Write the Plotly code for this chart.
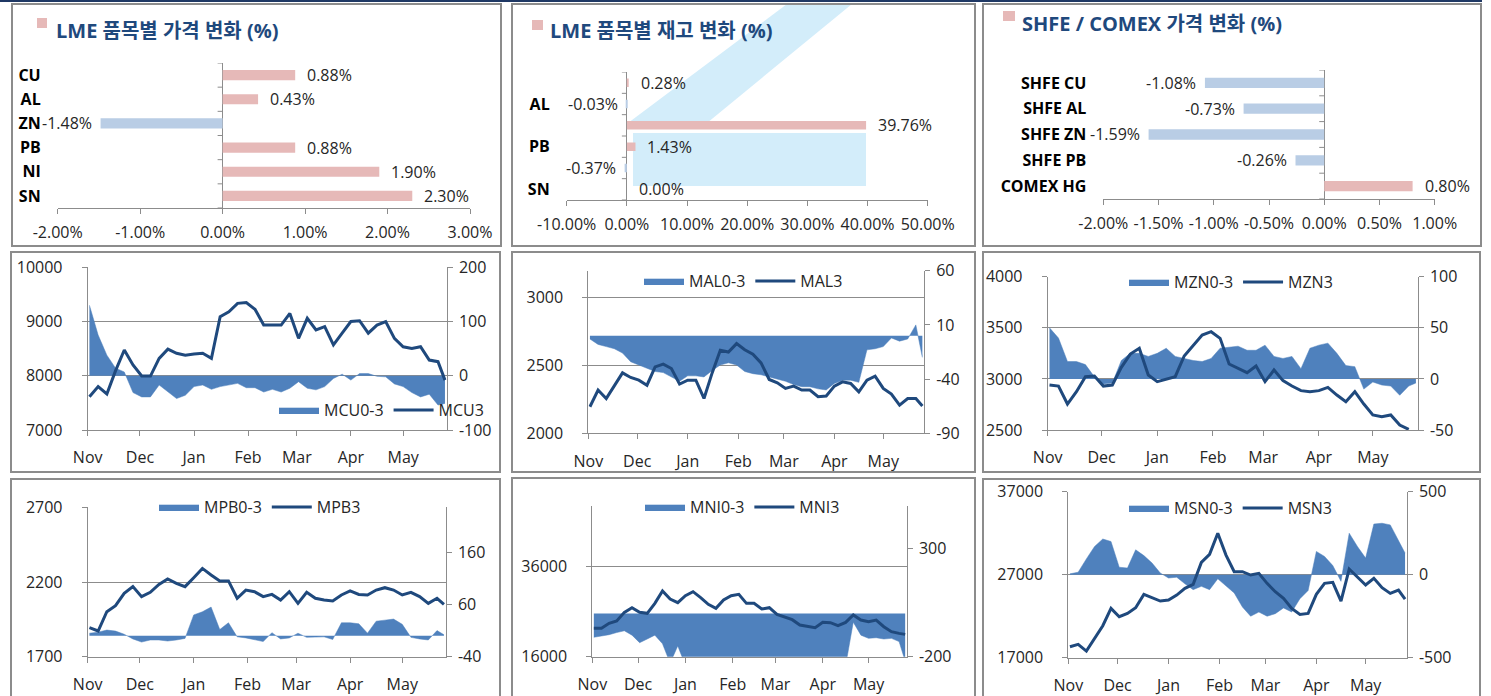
import plotly.graph_objects as go

W, H = 1491, 696
FONT = "Open Sans, Noto Sans CJK KR, sans-serif"
TXT = "#262626"
GREY = "#8C8C8C"
PINK = "#E6B9B8"
LBLUE = "#B9CDE5"
AREA = "#4F81BD"
NAVY = "#1F497D"

# ---------------- bar chart data ----------------
LME_PRICE_CATS = ["CU", "AL", "ZN", "PB", "NI", "SN"]
LME_PRICE_CHG = [0.88, 0.43, -1.48, 0.88, 1.90, 2.30]
LME_STOCK_CATS = ["CU", "AL", "ZN", "PB", "NI", "SN"]
LME_STOCK_CHG = [0.28, -0.03, 39.76, 1.43, -0.37, 0.00]
LME_STOCK_SHOWN = ["AL", "PB", "SN"]
SHFE_CATS = ["SHFE CU", "SHFE AL", "SHFE ZN", "SHFE PB", "COMEX HG"]
SHFE_CHG = [-1.08, -0.73, -1.59, -0.26, 0.80]

# ---------------- time series data ----------------
DATES = ["2014-11-02", "2014-11-07", "2014-11-12", "2014-11-17", "2014-11-22", "2014-11-27",
         "2014-12-02", "2014-12-07", "2014-12-12", "2014-12-17", "2014-12-22", "2014-12-27",
         "2015-01-01", "2015-01-06", "2015-01-11", "2015-01-16", "2015-01-21", "2015-01-26", "2015-01-31",
         "2015-02-05", "2015-02-10", "2015-02-15", "2015-02-20", "2015-02-25",
         "2015-03-02", "2015-03-07", "2015-03-12", "2015-03-17", "2015-03-22", "2015-03-27",
         "2015-04-01", "2015-04-06", "2015-04-11", "2015-04-16", "2015-04-21", "2015-04-26",
         "2015-05-01", "2015-05-06", "2015-05-11", "2015-05-16", "2015-05-21", "2015-05-25"]

MCU3 = [7615, 7800, 7665, 8095, 8475, 8200, 7995, 7995, 8320, 8490, 8415, 8380,
        8400, 8415, 8320, 9090, 9180, 9335, 9350, 9225, 8935, 8935, 8935, 9150,
        8690, 9060, 8845, 8905, 8570, 8785, 9000, 9015, 8785, 8935, 9000, 8690,
        8535, 8505, 8535, 8290, 8260, 7920]
MCU0_3 = [130, 75, 38, 14, 7, -31, -39, -39, -17, -30, -42, -36,
          -20, -17, -25, -20, -17, -14, -22, -22, -30, -25, -30, -23,
          -11, -23, -26, -20, -5, 3, -8, 4, 4, -1, -2, -15,
          -20, -31, -39, -34, -54, -51]

MAL3 = [2196, 2319, 2257, 2355, 2446, 2412, 2392, 2355, 2490, 2510, 2478, 2363,
        2392, 2392, 2257, 2446, 2613, 2600, 2662, 2617, 2583, 2520, 2397, 2373,
        2331, 2348, 2319, 2319, 2270, 2275, 2348, 2380, 2368, 2306, 2392, 2422,
        2331, 2289, 2208, 2257, 2257, 2201]
MAL0_3 = [-3, -8, -10, -12, -16, -24, -27, -30, -33, -34, -38, -42,
          -37, -37, -38, -32, -27, -25, -27, -33, -35, -36, -38, -40,
          -42, -45, -47, -47, -49, -50, -44, -41, -41, -43, -13, -12,
          -10, -2, -5, -3, 10, -20]

MZN3 = [2940, 2930, 2754, 2875, 3022, 3028, 2930, 2940, 3113, 3243, 3299, 3038,
        2973, 2996, 3022, 3224, 3331, 3429, 3462, 3397, 3146, 3103, 3061, 3126,
        2973, 3087, 2983, 2930, 2885, 2875, 2885, 2917, 2842, 2777, 2875, 2754,
        2647, 2630, 2647, 2549, 2506, None]
MZN0_3 = [50, 40, 17, 17, 14, 2, -5, -4, 18, 25, 25, 22,
          25, 30, 22, 20, 18, 17, 20, 30, 31, 32, 28, 28,
          33, 22, 20, 22, 10, 30, 33, 35, 25, 13, 12, -10,
          -3, -6, -7, -16, -7, -4]

MPB3 = [1894, 1872, 2001, 2042, 2124, 2169, 2102, 2131, 2184, 2220, 2191, 2169,
        2229, 2291, 2247, 2207, 2207, 2091, 2146, 2135, 2102, 2117, 2079, 2135,
        2057, 2131, 2091, 2079, 2073, 2113, 2140, 2117, 2113, 2146, 2162, 2146,
        2113, 2131, 2102, 2057, 2091, 2050]
MPB0_3 = [5, 7, 11, 9, 3, -6, -12, -8, -8, -10, -8, -5,
          40, 46, 55, 12, 25, -2, -4, -8, -11, 6, -6, -4,
          5, -3, -3, -2, -7, 25, 25, 23, 5, 28, 30, 32,
          22, -3, -6, -8, 10, 2]

MNI3 = [22296, 22296, 23407, 23926, 25852, 26889, 25852, 25630, 27852, 30593, 28815, 28000,
        29556, 30444, 29111, 27630, 26741, 28592, 29556, 29852, 27852, 27852, 26593, 26889,
        25407, 24815, 24222, 23037, 22815, 22444, 23630, 23556, 22889, 23630, 25259, 24148,
        23778, 24148, 22667, 21556, 21185, 20963]
MNI0_3 = [-110, -105, -98, -88, -80, -100, -135, -118, -100, -140, -230, -150,
          -240, -240, -230, -240, -205, -210, -240, -205, -230, -240, -240, -240,
          -240, -240, -240, -240, -240, -240, -205, -210, -240, -240, -40, -100,
          -115, -112, -118, -115, -130, -220]

MSN3 = [18325, 18606, 17803, 19329, 20855, 22944, 21940, 22341, 23024, 24630, 24229, 23827,
        23948, 24550, 25353, 25835, 28486, 29450, 32000, 29369, 27361, 27361, 26960, 27160,
        25956, 24952, 24149, 22944, 22221, 22341, 24630, 25956, 26076, 23827, 27683, 26759,
        25755, 26558, 25433, 24751, 25152, 24068]
MSN0_3 = [5, 15, 95, 170, 215, 200, 45, 40, 150, 115, 70, 10,
          -20, -15, -55, -90, -70, -90, -25, -70, -110, -195, -250, -225,
          -250, -235, -200, -225, -145, -95, 140, 110, 55, -40, 250, 170,
          100, 305, 310, 300, 200, 130]

# ---------------- layout geometry (pixels) ----------------
def dom(box):
    x0, y0, x1, y1 = box
    return [x0 / W, x1 / W], [1 - y1 / H, 1 - y0 / H]


def px(x, y):
    return x / W, 1 - y / H


def ticks_between(lo, hi, step):
    vals = []
    v = lo
    while v <= hi + 1e-9:
        vals.append(round(v, 6))
        v += step
    return vals


BAR_PANELS = [
    dict(cats=LME_PRICE_CATS, vals=LME_PRICE_CHG, shown=LME_PRICE_CATS, rng=[-2, 3], dtick=1,
         box=(57.7, 63, 470, 208), width=0.42),
    dict(cats=LME_STOCK_CATS, vals=LME_STOCK_CHG, shown=LME_STOCK_SHOWN, rng=[-10, 50], dtick=10,
         box=(566.7, 72, 927.7, 200), width=0.40),
    dict(cats=SHFE_CATS, vals=SHFE_CHG, shown=SHFE_CATS, rng=[-2, 1], dtick=0.5,
         box=(1103.3, 70, 1434.7, 199), width=0.40),
]

LINE_PANELS = [
    dict(name="MCU", line=MCU3, area=MCU0_3, box=(87.7, 267.3, 446.7, 430),
         lrng=[7000, 10000], ltick0=7000, ldt=1000, rrng=[-100, 200], rtick0=-100, rdt=100,
         leg=(274, 410)),
    dict(name="MAL", line=MAL3, area=MAL0_3, box=(588.3, 270.7, 924, 433.3),
         lrng=[2000, 3200], ltick0=2000, ldt=500, rrng=[-90, 60], rtick0=-90, rdt=50,
         leg=(639, 281)),
    dict(name="MZN", line=MZN3, area=MZN0_3, box=(1047.7, 276.7, 1417.7, 430),
         lrng=[2500, 4000], ltick0=2500, ldt=500, rrng=[-50, 100], rtick0=-50, rdt=50,
         leg=(1124, 282)),
    dict(name="MPB", line=MPB3, area=MPB0_3, box=(87.7, 507.3, 445.7, 656.7),
         lrng=[1700, 2700], ltick0=1700, ldt=500, rrng=[-40, 246], rtick0=-40, rdt=100,
         leg=(154, 507)),
    dict(name="MNI", line=MNI3, area=MNI0_3, box=(592.3, 505.7, 906.7, 656.7),
         lrng=[16000, 49550], ltick0=16000, ldt=20000, rrng=[-200, 500], rtick0=-200, rdt=500,
         leg=(640, 507)),
    dict(name="MSN", line=MSN3, area=MSN0_3, box=(1068.3, 491.7, 1406.7, 657.7),
         lrng=[17000, 37000], ltick0=17000, ldt=10000, rrng=[-500, 500], rtick0=-500, rdt=500,
         leg=(1124, 508)),
]

fig = go.Figure()
layout = dict(
    width=W, height=H, margin=dict(l=0, r=0, t=0, b=0, pad=0), autosize=False,
    paper_bgcolor="white", plot_bgcolor="rgba(0,0,0,0)",
    font=dict(family=FONT, color=TXT, size=16),
    barmode="overlay", showlegend=True,
)
shapes = []
annotations = []

# ---------------- decorative watermark (behind everything) ----------------
def poly(points, color):
    p = " ".join(("M" if i == 0 else "L") + f"{x / W:.5f},{1 - y / H:.5f}" for i, (x, y) in enumerate(points)) + " Z"
    return dict(type="path", xref="paper", yref="paper", path=p, fillcolor=color, line=dict(width=0), layer="below")

WM_BLUE = "#D3EDFA"
shapes.append(poly([(787, 4), (852, 4), (707, 123), (628, 123)], WM_BLUE))
shapes.append(poly([(633, 133), (866, 133), (866, 186), (633, 186)], WM_BLUE))

# ---------------- bar panels ----------------
for i, p in enumerate(BAR_PANELS, start=1):
    xd, yd = dom(p["box"])
    colors = [PINK if v >= 0 else LBLUE for v in p["vals"]]
    fig.add_trace(go.Bar(
        x=p["vals"], y=p["cats"], orientation="h", width=p["width"],
        marker=dict(color=colors, line=dict(width=0)),
        xaxis=f"x{i}", yaxis=f"y{i}", showlegend=False, hoverinfo="skip",
    ))
    n = len(p["cats"])
    tv = ticks_between(p["rng"][0], p["rng"][1], p["dtick"])
    layout[f"xaxis{i}"] = dict(
        domain=xd, anchor=f"y{i}", range=p["rng"], tickvals=tv,
        ticktext=[f"{v:.2f}%" for v in tv], tickangle=0, showline=True, linecolor=GREY, linewidth=1,
        ticks="outside", ticklen=5, tickcolor=GREY, showgrid=False, automargin=False,
        zeroline=True, zerolinecolor=GREY, zerolinewidth=1,
        tickfont=dict(size=16, color=TXT), ticklabelstandoff=5, fixedrange=True,
    )
    layout[f"yaxis{i}"] = dict(
        domain=yd, anchor=f"x{i}", type="category", categoryorder="array",
        categoryarray=p["cats"], range=[n - 0.5, -0.5], tickvals=p["shown"],
        showline=False, showgrid=False, zeroline=False, ticks="", automargin=False,
        tickfont=dict(size=16, color="#000000", weight="bold"), ticklabelstandoff=16,
        fixedrange=True,
    )
    for b in range(n + 1):
        shapes.append(dict(type="line", xref=f"x{i}", yref=f"y{i}", xsizemode="pixel", xanchor=0,
                           x0=-5, x1=0, y0=b - 0.5, y1=b - 0.5, line=dict(color=GREY, width=1)))
    for c, v in zip(p["cats"], p["vals"]):
        annotations.append(dict(
            x=v, y=c, xref=f"x{i}", yref=f"y{i}", text=f"{v:.2f}%", showarrow=False,
            xanchor="left" if v >= 0 else "right", xshift=10 if v >= 0 else -7,
            font=dict(size=16, color=TXT),
        ))

# titles with pink squares
TITLES = [
    ("LME 품목별 가격 변화 (%)", (37, 18, 47, 28), (54, 30)),
    ("LME 품목별 재고 변화 (%)", (532, 20, 543, 30), (548, 31)),
    ("SHFE / COMEX 가격 변화 (%)", (1003, 11, 1015, 21), (1020, 23)),
]
for text, sq, pos in TITLES:
    x0, y0, x1, y1 = sq
    shapes.append(dict(type="rect", xref="paper", yref="paper", x0=x0 / W, x1=x1 / W,
                       y0=1 - y1 / H, y1=1 - y0 / H, fillcolor=PINK, line=dict(width=0)))
    ax, ay = px(*pos)
    annotations.append(dict(x=ax, y=ay, xref="paper", yref="paper", text=text, showarrow=False,
                            xanchor="left", yanchor="middle",
                            font=dict(size=20, color=NAVY, weight="bold",
                                      family="Open Sans, Noto Sans CJK KR")))

# ---------------- line / area panels ----------------
for j, p in enumerate(LINE_PANELS):
    k = 4 + j
    kl = k + 6
    legname = "legend" if j == 0 else f"legend{j + 1}"
    xd, yd = dom(p["box"])
    fig.add_trace(go.Scatter(
        x=DATES, y=p["area"], mode="lines", fill="tozeroy", fillcolor=AREA,
        line=dict(color=AREA, width=0.5), name=f"{p['name']}0-3",
        xaxis=f"x{k}", yaxis=f"y{k}", legend=legname, hoverinfo="skip",
    ))
    fig.add_trace(go.Scatter(
        x=DATES, y=p["line"], mode="lines", line=dict(color=NAVY, width=3),
        name=f"{p['name']}3", xaxis=f"x{k}", yaxis=f"y{kl}", legend=legname,
        hoverinfo="skip", connectgaps=False,
    ))
    layout[f"xaxis{k}"] = dict(
        domain=xd, anchor=f"y{k}", type="date", range=["2014-11-01", "2015-05-26"],
        tick0="2014-11-01", dtick="M1", tickformat="%b", showline=True, linecolor=GREY,
        ticks="outside", ticklen=5, tickcolor=GREY, showgrid=False, zeroline=False, automargin=False,
        tickfont=dict(size=16, color=TXT), ticklabelstandoff=8, fixedrange=True,
    )
    rtv = ticks_between(p["rtick0"], p["rrng"][1], p["rdt"])
    layout[f"yaxis{k}"] = dict(
        domain=yd, anchor=f"x{k}", side="right", range=p["rrng"], tickvals=rtv,
        ticktext=[f"{int(v)}" for v in rtv], showline=True, linecolor=GREY, ticks="outside",
        ticklen=5, tickcolor=GREY, showgrid=False, zeroline=False,
        tickfont=dict(size=16, color=TXT), automargin=False, ticklabelstandoff=3, fixedrange=True,
    )
    layout[f"yaxis{kl}"] = dict(
        overlaying=f"y{k}", anchor=f"x{k}", side="left", range=p["lrng"], tick0=p["ltick0"],
        dtick=p["ldt"], tickformat="d", showline=True, linecolor=GREY, ticks="outside", ticklen=5,
        tickcolor=GREY, showgrid=True, gridcolor=GREY, gridwidth=1, zeroline=False, automargin=False,
        tickfont=dict(size=16, color=TXT), ticklabelstandoff=16, fixedrange=True,
    )
    lx, ly = px(*p["leg"])
    layout[legname] = dict(
        x=lx, y=ly, xanchor="left", yanchor="middle", orientation="h",
        bgcolor="rgba(0,0,0,0)", borderwidth=0, font=dict(size=16, color=TXT),
        itemwidth=40, tracegroupgap=0, itemclick=False, itemdoubleclick=False,
    )

# ---------------- panel borders ----------------
PANELS = [
    (12, 4, 501, 246), (512, 4, 975, 246), (983, 4, 1481, 246),
    (11, 252, 500, 472), (512, 252, 975, 472), (983, 252, 1480, 472),
    (11, 479, 500, 700), (512, 478, 975, 700), (983, 479, 1480, 700),
]
for x0, y0, x1, y1 in PANELS:
    shapes.append(dict(type="rect", xref="paper", yref="paper", x0=x0 / W, x1=x1 / W,
                       y0=1 - y1 / H, y1=1 - y0 / H, line=dict(color=GREY, width=2),
                       fillcolor="rgba(0,0,0,0)", layer="above"))
shapes.append(dict(type="rect", xref="paper", yref="paper", x0=0, x1=1482 / W, y0=1 - 2 / H, y1=1,
                   fillcolor="#1F3864", line=dict(width=0)))

layout["shapes"] = shapes
layout["annotations"] = annotations
fig.update_layout(**layout)

PAGE_FIX = (
    "document.documentElement.style.margin='0';document.body.style.margin='0';"
    "document.body.style.padding='0';document.documentElement.style.overflow='hidden';"
    "document.body.style.overflow='hidden';"
)
fig.write_html("out.html", post_script=PAGE_FIX, config={"displayModeBar": False})
